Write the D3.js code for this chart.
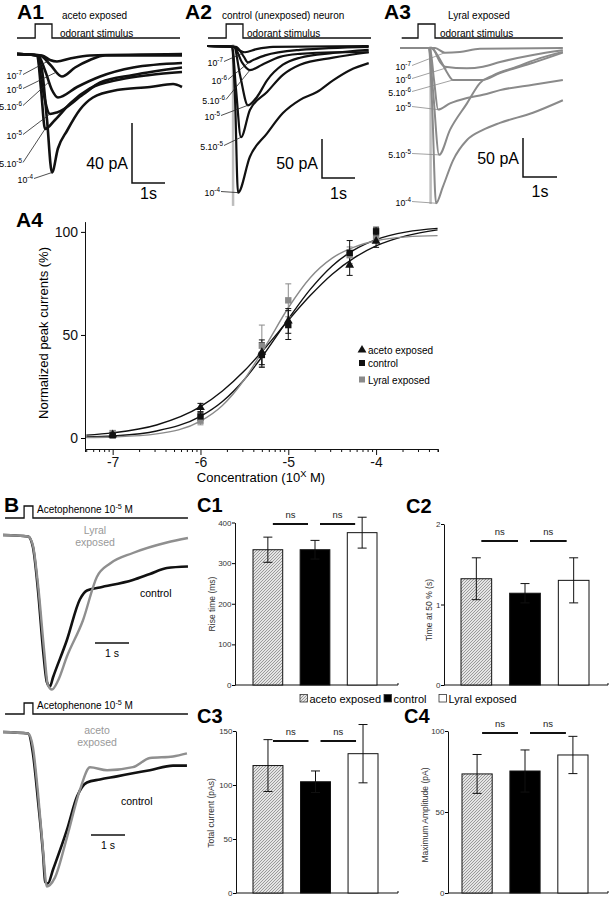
<!DOCTYPE html>
<html><head><meta charset="utf-8">
<script src="https://cdn.jsdelivr.net/npm/d3@7"></script>
<style>html,body{margin:0;padding:0;background:#fff;}svg{display:block;}</style>
</head><body>
<script>
// ================= DATA =================
const concLabels = [["10","-7"],["10","-6"],["5.10","-6"],["10","-5"],["5.10","-5"],["10","-4"]];

// A1 traces: [time s, current pA], order 1e-7 .. 1e-4
const A1_traces = [
  [[0,0],[0.76,-1],[1.0,-4],[1.21,-5],[1.61,-3],[2.21,-1],[5,0]],
  [[0,0],[0.7,-1],[1.0,-7],[1.36,-15],[1.76,-9],[2.21,-4],[2.67,-1],[5,-1]],
  [[0,0],[0.64,-1],[0.85,-11],[1.06,-24],[1.24,-29],[1.82,-22],[2.52,-15],[3.52,-9],[5,-6]],
  [[0,0],[0.61,-1],[0.76,-21],[1.0,-40],[1.21,-39],[2.0,-27],[2.52,-19],[3.52,-14],[5,-9]],
  [[0,0],[0.61,-1],[0.73,-24],[0.85,-50],[1.15,-44],[1.61,-33],[2.21,-23],[3.12,-17],[4.03,-14],[5,-12]],
  [[0,0],[0.64,-1],[0.76,-11],[0.91,-44],[1.06,-79],[1.24,-63],[1.52,-51],[1.91,-37],[2.3,-29],[3.03,-24],[4.03,-22],[4.73,-20],[5,-22]]
];
const A2_traces = [
  [[0,0],[0.8,-1],[1.0,-6],[1.15,-8],[1.5,-4],[2.0,-1],[4.9,0]],
  [[0,0],[0.88,-1],[1.12,-14],[1.24,-21],[1.4,-18],[1.76,-12],[2.82,-5],[4.9,-1]],
  [[0,0],[0.82,-1],[1.06,-21],[1.3,-31],[1.67,-24],[2.21,-14],[2.82,-10],[3.82,-8],[4.9,-8]],
  [[0,0],[0.82,-1],[1.0,-37],[1.24,-76],[1.52,-65],[1.82,-44],[2.3,-24],[2.82,-15],[3.82,-9],[4.9,-5]],
  [[0,0],[0.76,-1],[0.88,-56],[1.03,-117],[1.3,-82],[1.82,-59],[2.3,-37],[2.82,-24],[3.82,-15],[4.9,-8]],
  [[0,0],[0.76,-1],[0.85,-68],[0.94,-188],[1.3,-142],[1.82,-112],[2.3,-86],[2.82,-69],[3.33,-59],[3.82,-44],[4.33,-31],[4.9,-22]]
];
const A2_artifact = [[0.79,2],[0.79,-205]];
const A3_traces = [
  [[0,0],[1.03,0],[1.32,-6],[1.76,-5],[2.35,-1],[4.79,0]],
  [[0,0],[0.94,0],[1.18,-18],[1.32,-24],[1.97,-26],[2.44,-24],[2.94,-18],[3.91,-9],[4.79,-3]],
  [[0,0],[0.91,0],[1.18,-15],[1.38,-31],[1.56,-41],[1.97,-41],[2.44,-41],[2.94,-32],[3.91,-19],[4.79,-6]],
  [[0,0],[0.88,0],[1.0,-41],[1.12,-79],[1.47,-71],[1.97,-64],[2.44,-60],[2.94,-54],[3.91,-47],[4.79,-41]],
  [[0,0],[0.85,0],[0.97,-54],[1.15,-137],[1.47,-105],[1.97,-71],[2.35,-45],[2.74,-35],[3.44,-24],[4.12,-13],[4.79,-5]],
  [[0,0],[0.85,0],[0.94,-67],[1.06,-199],[1.26,-178],[1.56,-144],[1.97,-118],[2.44,-105],[2.94,-96],[3.91,-83],[4.79,-67]]
];
const A3_artifact = [[0.9,2],[0.9,-200]];
const A_stim = [[0.55,1.06],[0.58,1.09],[0.53,1.03]];

// A4 dose-response
const conc = [1e-7,1e-6,5e-6,1e-5,5e-5,1e-4];
const aceto_mean = [1.6,14.8,41.6,56.8,83.9,95.5];
const aceto_err  = [1,2,6,6,5,3];
const control_mean = [1.3,10.5,40.3,54.8,89.8,100.3];
const control_err  = [1,2,6,7,6,2];
const lyral_mean = [2.4,8.4,44.8,66.8,88.7,96.8];
const lyral_err  = [1,2,10,8,4,2];
const fitLogX = [-7.3,-7,-6.5,-6,-5.75,-5.5,-5.25,-5,-4.75,-4.5,-4.25,-4,-3.65,-3.3];
const aceto_fit   = [1.4,2.5,6.3,15.2,22.8,32.6,44.4,57.1,69.1,79.5,87.4,93.2,98.2,101.0];
const control_fit = [0.5,1.0,3.4,10.5,17.7,28.4,42.3,57.7,72.1,83.5,91.3,96.3,100.0,101.7];
const lyral_fit   = [0.2,0.5,2.0,8.2,15.8,28.4,45.3,63.2,77.8,87.3,92.6,95.7,97.6,98.2];
const xTickExp = [-7,-6,-5,-4];
const yTicksA4 = [0,50,100];

// B traces: [time s, normalized current]
const B_stim = [0.62,0.88];
const B1_control = [[0,0],[0.74,-0.01],[0.88,-0.08],[1.03,-0.37],[1.18,-0.77],[1.29,-0.98],[1.38,-1.01],[1.47,-0.95],[1.88,-0.70],[2.26,-0.43],[2.47,-0.37],[2.85,-0.35],[3.82,-0.30],[4.32,-0.26],[4.82,-0.22],[5.44,-0.21]];
const B1_lyral   = [[0,0],[0.74,-0.01],[0.88,-0.07],[1.03,-0.33],[1.21,-0.77],[1.32,-1.0],[1.44,-1.03],[1.62,-0.97],[1.88,-0.81],[2.35,-0.57],[2.76,-0.28],[3.15,-0.19],[3.82,-0.12],[4.82,-0.05],[5.44,-0.02]];
const B2_control = [[0,0],[0.74,-0.01],[0.88,-0.14],[1.03,-0.45],[1.18,-0.80],[1.24,-0.98],[1.32,-0.99],[1.47,-0.90],[1.88,-0.64],[2.18,-0.42],[2.47,-0.33],[2.85,-0.31],[3.35,-0.29],[3.82,-0.27],[4.32,-0.25],[5.0,-0.22],[5.41,-0.22]];
const B2_aceto   = [[0,0],[0.74,-0.01],[0.88,-0.10],[1.03,-0.40],[1.18,-0.78],[1.29,-1.01],[1.38,-1.0],[1.53,-0.95],[1.88,-0.69],[2.26,-0.38],[2.56,-0.23],[3.06,-0.25],[3.82,-0.23],[4.32,-0.17],[5.0,-0.16],[5.41,-0.14]];

// C bar charts
const groups = ["aceto exposed","control","Lyral exposed"];
const C1_mean = [333,333,375], C1_err = [31,23,38];
const C2_mean = [1.32,1.14,1.30], C2_err = [0.26,0.12,0.28];
const C3_mean = [118,103,129], C3_err = [24,10,27];
const C4_mean = [73.5,75.3,85.2], C4_err = [12,13,11.5];
const C1_ticks = [0,100,200,300,400], C2_ticks = [0,1,2], C3_ticks = [0,50,100,150], C4_ticks = [0,50,100];

// ================= DRAW =================
const FONT = '"Liberation Sans", Arial, Helvetica, sans-serif';
const svg = d3.select("body").append("svg").attr("width",612).attr("height",899)
  .attr("font-family",FONT);

const defs = svg.append("defs");
const pat = defs.append("pattern").attr("id","hatch").attr("patternUnits","userSpaceOnUse")
  .attr("width",3).attr("height",3);
pat.append("rect").attr("width",3).attr("height",3).attr("fill","#e4e4e4");
pat.append("path").attr("d","M-1,1L1,-1M0,3L3,0M2,4L4,2").attr("stroke","#7a7a7a").attr("stroke-width",0.7);

function txt(g,x,y,s,size,o={}){
  const t=g.append("text").attr("x",x).attr("y",y).attr("font-size",size).text(s);
  if(o.anchor) t.attr("text-anchor",o.anchor);
  if(o.weight) t.attr("font-weight",o.weight);
  if(o.fill) t.attr("fill",o.fill);
  return t;
}
function supTxt(g,x,y,base,sup,size,anchor,after,fill){
  const t=g.append("text").attr("x",x).attr("y",y).attr("font-size",size).attr("text-anchor",anchor||"start");
  if(fill) t.attr("fill",fill);
  t.append("tspan").text(base);
  t.append("tspan").attr("dy",-size*0.42).attr("font-size",size*0.72).text(sup);
  if(after) t.append("tspan").attr("dy",size*0.42).text(after);
  return t;
}

// ---------- A1-A3 ----------
function tracePanel(c){
  const g=svg.append("g");
  const x=d3.scaleLinear().domain([0,5]).range([c.x0,c.x0+5*c.pxs]);
  const y=d3.scaleLinear().domain([-200,0]).range([c.yb+200*c.ppa,c.yb]);
  txt(g,c.lab[0],c.lab[1],c.name,21,{weight:"bold"});
  txt(g,c.t1[0],c.t1[1],c.title,10);
  txt(g,c.t2[0],c.t2[1],"odorant stimulus",10);
  g.append("path").attr("d",`M${x(c.stimStart)},${c.sb}H${x(c.stim[0])}V${c.st}H${x(c.stim[1])}V${c.sb}H${x(c.stimEnd)}`)
    .attr("fill","none").attr("stroke","#111").attr("stroke-width",1.3);
  const line=d3.line().x(d=>x(d[0])).y(d=>y(d[1])).curve(d3.curveMonotoneX);
  if(c.art) g.append("path").attr("d",d3.line().x(d=>x(d[0])).y(d=>y(d[1]))(c.art))
    .attr("stroke","#bdbdbd").attr("stroke-width",2.5).attr("fill","none");
  c.traces.forEach(tr=>g.append("path").attr("d",line(tr)).attr("fill","none")
    .attr("stroke",c.color).attr("stroke-width",c.sw).attr("stroke-linejoin","round"));
  c.labels.forEach((L,i)=>{
    supTxt(g,L[0],L[1],concLabels[i][0],concLabels[i][1],8.8,"end");
    const tg=c.targets[i];
    g.append("line").attr("x1",L[0]+1).attr("y1",L[1]-4.5).attr("x2",x(tg[0])).attr("y2",y(tg[1]))
      .attr("stroke",c.leader).attr("stroke-width",0.8);
  });
  const h=c.barPA*c.ppa, w=x(1)-x(0);
  g.append("path").attr("d",`M${c.bar[0]},${c.bar[1]-h}V${c.bar[1]}H${c.bar[0]+w}`)
    .attr("fill","none").attr("stroke","#111").attr("stroke-width",1.5);
  txt(g,c.bar[0]-4,c.pAy,c.barPA+" pA",16,{anchor:"end"});
  txt(g,c.bar[0]+w/2,c.sy,"1s",16,{anchor:"middle"});
}
tracePanel({name:"A1",lab:[17,19],title:"aceto exposed",t1:[62,19],t2:[60,37],
  x0:17,pxs:33,yb:54,ppa:1.5,sb:38,st:24,stim:A_stim[0],stimStart:0,stimEnd:4.94,
  traces:A1_traces,color:"#111",sw:2.6,leader:"#222",
  labels:[[22,79],[22,93],[22,110],[22,139],[22,167],[33,183]],
  targets:[[1.0,-4],[1.2,-12],[0.95,-19],[1.0,-40],[0.85,-50],[1.06,-79]],
  bar:[132,183],barPA:40,pAy:169,sy:199});
tracePanel({name:"A2",lab:[185,19],title:"control (unexposed) neuron",t1:[222,19],t2:[247,37],
  x0:207,pxs:33,yb:46,ppa:0.78,sb:38,st:24,stim:A_stim[1],stimStart:0.03,stimEnd:4.97,
  traces:A2_traces,art:A2_artifact,color:"#111",sw:2.2,leader:"#222",
  labels:[[223,66],[227,84],[225,104],[220,120],[223,150],[220,196]],
  targets:[[1.15,-8],[1.3,-20],[1.3,-31],[1.24,-76],[1.03,-117],[0.94,-188]],
  bar:[322,178],barPA:50,pAy:169,sy:199});
tracePanel({name:"A3",lab:[384,19],title:"Lyral exposed",t1:[448,19],t2:[440,37],
  x0:400,pxs:34,yb:48,ppa:0.78,sb:38,st:24,stim:A_stim[2],stimStart:0.05,stimEnd:4.79,
  traces:A3_traces,art:A3_artifact,color:"#8a8a8a",sw:2.0,leader:"#8a8a8a",
  labels:[[411,70],[411,83],[411,96],[411,111],[411,158],[411,206]],
  targets:[[1.32,-6],[1.4,-25],[1.56,-41],[1.12,-79],[1.15,-137],[1.06,-199]],
  bar:[523,177],barPA:50,pAy:164,sy:197});

// ---------- A4 ----------
const gA4=svg.append("g");
txt(gA4,16,227,"A4",21,{weight:"bold"});
const xA4=d3.scaleLog().domain([Math.pow(10,-7.315),Math.pow(10,-3.295)]).range([85,438]);
const yA4=d3.scaleLinear().domain([-5.33,105]).range([449,221.6]);
const isMajor=d=>{const e=Math.log10(d);return Math.abs(e-Math.round(e))<1e-6 && xTickExp.includes(Math.round(e));};
const xAx=gA4.append("g").attr("transform","translate(0,449)")
  .call(d3.axisBottom(xA4).tickSizeOuter(0).tickSize(3)
  .tickFormat(d=>isMajor(d)?String(Math.round(Math.log10(d))):""));
xAx.attr("font-family",FONT);
xAx.selectAll(".tick line").attr("y2",d=>isMajor(d)?6:3).attr("stroke","#111");
xAx.selectAll(".tick text").attr("font-size",14).attr("y",8).attr("fill","#111");
xAx.select(".domain").attr("stroke","#111");
const yAx=gA4.append("g").attr("transform","translate(85,0)")
  .call(d3.axisLeft(yA4).tickValues(yTicksA4).tickSize(4).tickSizeOuter(0));
yAx.attr("font-family",FONT);
yAx.selectAll(".tick text").attr("font-size",14).attr("fill","#111");
yAx.select(".domain").attr("stroke","#111");
txt(gA4,0,0,"Normalized peak currents (%)",13,{anchor:"middle"}).attr("transform","translate(48,333) rotate(-90)");
supTxt(gA4,261,482,"Concentration (10","X",13,"middle"," M)");

const fitLine=d3.line().x((d,i)=>xA4(Math.pow(10,fitLogX[i]))).y(d=>yA4(d)).curve(d3.curveMonotoneX);
[[aceto_fit,"#111"],[control_fit,"#111"],[lyral_fit,"#8a8a8a"]].forEach(([f,col])=>
  gA4.append("path").attr("d",fitLine(f)).attr("fill","none").attr("stroke",col).attr("stroke-width",1.4));
function errBars(mean,err,col){
  conc.forEach((c,i)=>{
    const xx=xA4(c), y1=yA4(mean[i]-err[i]), y2=yA4(mean[i]+err[i]);
    gA4.append("path").attr("d",`M${xx},${y1}V${y2}M${xx-3},${y1}H${xx+3}M${xx-3},${y2}H${xx+3}`)
      .attr("stroke",col).attr("stroke-width",1).attr("fill","none");
  });
}
errBars(lyral_mean,lyral_err,"#8a8a8a");
errBars(control_mean,control_err,"#111");
errBars(aceto_mean,aceto_err,"#111");
const tri=d3.symbol().type(d3.symbolTriangle).size(34);
conc.forEach((c,i)=>gA4.append("rect").attr("x",xA4(c)-3.2).attr("y",yA4(lyral_mean[i])-3.2).attr("width",6.4).attr("height",6.4).attr("fill","#8a8a8a"));
conc.forEach((c,i)=>gA4.append("rect").attr("x",xA4(c)-3.2).attr("y",yA4(control_mean[i])-3.2).attr("width",6.4).attr("height",6.4).attr("fill","#111"));
conc.forEach((c,i)=>gA4.append("path").attr("d",tri()).attr("transform",`translate(${xA4(c)},${yA4(aceto_mean[i])})`).attr("fill","#111"));
// legend
gA4.append("path").attr("d",tri()).attr("transform","translate(362,350)").attr("fill","#111");
txt(gA4,368,353.5,"aceto exposed",10);
gA4.append("rect").attr("x",359).attr("y",360).attr("width",6).attr("height",6).attr("fill","#111");
txt(gA4,368,367,"control",10);
gA4.append("rect").attr("x",359).attr("y",376.5).attr("width",6).attr("height",6).attr("fill","#8a8a8a");
txt(gA4,368,383.5,"Lyral exposed",10);

// ---------- B ----------
function bPanel(c){
  const g=svg.append("g");
  const x=d3.scaleLinear().domain([0,5.45]).range([3,3+5.45*34]);
  const y=d3.scaleLinear().domain([-1,0]).range([c.yt,c.yb]);
  if(c.label) txt(g,4,512,c.label,21,{weight:"bold"});
  g.append("path").attr("d",`M${x(0.06)},${c.sb}H${x(B_stim[0])}V${c.st}H${x(B_stim[1])}V${c.sb}H${x(5.44)}`)
    .attr("fill","none").attr("stroke","#111").attr("stroke-width",1.3);
  supTxt(g,37,c.sb-5,"Acetophenone 10","-5",10,"start"," M");
  const line=d3.line().x(d=>x(d[0])).y(d=>y(d[1])).curve(d3.curveMonotoneX);
  g.append("path").attr("d",line(c.black)).attr("fill","none").attr("stroke","#111").attr("stroke-width",2.6);
  g.append("path").attr("d",line(c.gray)).attr("fill","none").attr("stroke","#8f8f8f").attr("stroke-width",2.4);
  txt(g,c.gl[0],c.gl[1],c.gt[0],10.5,{anchor:"middle",fill:"#999"});
  txt(g,c.gl[0],c.gl[1]+12,c.gt[1],10.5,{anchor:"middle",fill:"#999"});
  txt(g,c.cl[0],c.cl[1],"control",10.5);
  const w=x(1)-x(0);
  g.append("line").attr("x1",c.bar[0]).attr("x2",c.bar[0]+w).attr("y1",c.bar[1]).attr("y2",c.bar[1]).attr("stroke","#111").attr("stroke-width",1.5);
  txt(g,c.bar[0]+w/2,c.bar[1]+14,"1 s",10.5,{anchor:"middle"});
}
bPanel({label:"B",sb:518,st:506,yb:535,yt:685,black:B1_control,gray:B1_lyral,
  gt:["Lyral","exposed"],gl:[95,534],cl:[140,597],bar:[95,643]});
bPanel({sb:714,st:703,yb:732,yt:885,black:B2_control,gray:B2_aceto,
  gt:["aceto","exposed"],gl:[97,734],cl:[121,805],bar:[91,835]});

// ---------- C ----------
const fills=["url(#hatch)","#000","#fff"];
function cPanel(c){
  const g=svg.append("g");
  txt(g,c.lab[0],c.lab[1],c.name,20,{weight:"bold"});
  const y=d3.scaleLinear().domain([0,c.max]).range([c.bottom,c.top]);
  const x=d3.scaleBand().domain(groups).range(c.bars).paddingInner(0.37).paddingOuter(0);
  const ya=g.append("g").attr("transform",`translate(${c.ax},0)`)
    .call(d3.axisLeft(y).tickValues(c.ticks).tickSize(3).tickSizeOuter(0).tickFormat(d3.format("d")));
  ya.attr("font-family",FONT);
  ya.selectAll(".tick text").attr("font-size",8).attr("fill","#333").attr("x",-3.5);
  ya.select(".domain").attr("stroke","#111");
  g.append("path").attr("d",`M${c.ax},${c.bottom}H${c.xEnd}V${c.bottom-2}`).attr("stroke","#111").attr("fill","none");
  txt(g,0,0,c.title,8.5,{anchor:"middle",fill:"#333"}).attr("transform",`translate(${c.tx},${c.ty}) rotate(-90)`);
  groups.forEach((gr,i)=>{
    g.append("rect").attr("x",x(gr)).attr("y",y(c.mean[i])).attr("width",x.bandwidth())
      .attr("height",y(0)-y(c.mean[i])).attr("fill",fills[i]).attr("stroke","#111").attr("stroke-width",1);
    const cx=x(gr)+x.bandwidth()/2, y1=y(c.mean[i]-c.err[i]), y2=y(c.mean[i]+c.err[i]);
    g.append("path").attr("d",`M${cx},${y1}V${y2}M${cx-4.5},${y1}H${cx+4.5}M${cx-4.5},${y2}H${cx+4.5}`)
      .attr("stroke","#111").attr("stroke-width",1).attr("fill","none");
  });
  for(let i=0;i<2;i++){
    const a=x(groups[i])+x.bandwidth()/2+5, b=x(groups[i+1])+x.bandwidth()/2-7;
    g.append("line").attr("x1",a).attr("x2",b).attr("y1",c.nsY).attr("y2",c.nsY).attr("stroke","#111").attr("stroke-width",2);
    txt(g,(a+b)/2,c.nsY-6,"ns",9.5,{anchor:"middle",fill:"#222"});
  }
}
cPanel({name:"C1",lab:[197,512],ax:235,bottom:685,top:522.5,max:400,ticks:C1_ticks,xEnd:398,
  bars:[253,377],mean:C1_mean,err:C1_err,title:"Rise time (ms)",tx:215,ty:604,nsY:524});
cPanel({name:"C2",lab:[406,513],ax:444,bottom:685,top:524,max:2,ticks:C2_ticks,xEnd:608,
  bars:[461,589],mean:C2_mean,err:C2_err,title:"Time at 50 % (s)",tx:432,ty:610,nsY:541});
cPanel({name:"C3",lab:[197,723],ax:236,bottom:893,top:731,max:150,ticks:C3_ticks,xEnd:398,
  bars:[253,378],mean:C3_mean,err:C3_err,title:"Total current (pAs)",tx:214,ty:813,nsY:741});
cPanel({name:"C4",lab:[404,723],ax:448,bottom:893,top:731,max:100,ticks:C4_ticks,xEnd:608,
  bars:[462,588],mean:C4_mean,err:C4_err,title:"Maximum Amplitude (pA)",tx:428,ty:815,nsY:733});

// C legend
const gl=svg.append("g");
const legX=[300,384,439];
groups.forEach((gr,i)=>{
  gl.append("rect").attr("x",legX[i]).attr("y",694.5).attr("width",7.5).attr("height",7.5)
    .attr("fill",fills[i]).attr("stroke","#333").attr("stroke-width",0.8);
  txt(gl,legX[i]+9.5,702.5,gr,11);
});
</script>
</body></html>
